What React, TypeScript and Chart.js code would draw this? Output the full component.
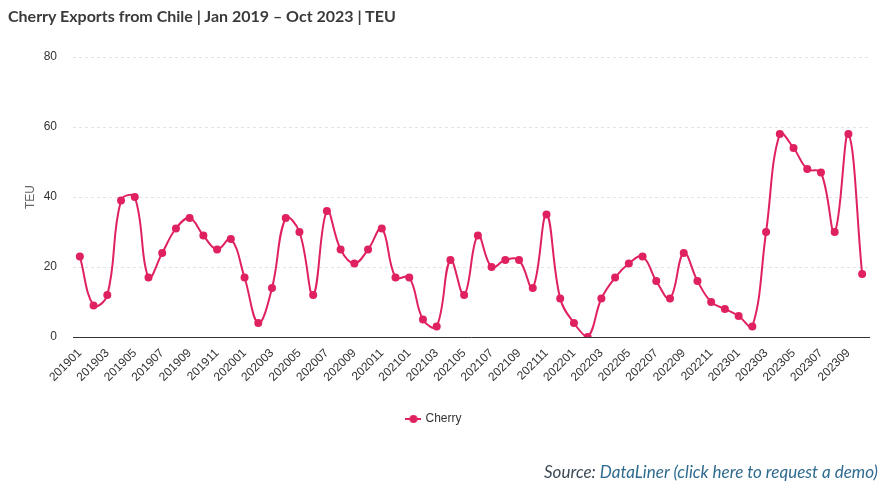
import React, { useEffect, useRef } from "react";
import { Chart, registerables } from "chart.js";

Chart.register(...registerables);

const months: string[] = [
  "201901","201902","201903","201904","201905","201906","201907","201908","201909","201910","201911","201912",
  "202001","202002","202003","202004","202005","202006","202007","202008","202009","202010","202011","202012",
  "202101","202102","202103","202104","202105","202106","202107","202108","202109","202110","202111","202112",
  "202201","202202","202203","202204","202205","202206","202207","202208","202209","202210","202211","202212",
  "202301","202302","202303","202304","202305","202306","202307","202308","202309","202310",
];

const cherryTEU: number[] = [
  23, 9, 12, 39, 40, 17, 24, 31, 34, 29, 25, 28,
  17, 4, 14, 34, 30, 12, 36, 25, 21, 25, 31, 17,
  17, 5, 3, 22, 12, 29, 20, 22, 22, 14, 35, 11,
  4, 0, 11, 17, 21, 23, 16, 11, 24, 16, 10, 8,
  6, 3, 30, 58, 54, 48, 47, 30, 58, 18,
];

const yTicks: number[] = [0, 20, 40, 60, 80];

const LINE_COLOR = "#e0215f";
const FONT = "'Liberation Sans', Arial, sans-serif";

function makeLegendIcon(): HTMLCanvasElement {
  const c = document.createElement("canvas");
  c.width = 16;
  c.height = 10;
  const ctx = c.getContext("2d")!;
  ctx.strokeStyle = LINE_COLOR;
  ctx.lineWidth = 2;
  ctx.beginPath();
  ctx.moveTo(0, 5);
  ctx.lineTo(16, 5);
  ctx.stroke();
  ctx.fillStyle = LINE_COLOR;
  ctx.beginPath();
  ctx.arc(8, 5, 4, 0, Math.PI * 2);
  ctx.fill();
  return c;
}

export default function App() {
  const ref = useRef<HTMLCanvasElement | null>(null);

  useEffect(() => {
    if (!ref.current) return;
    const icon = makeLegendIcon();
    const chart = new Chart(ref.current, {
      type: "line",
      data: {
        labels: months,
        datasets: [
          {
            label: "Cherry",
            data: cherryTEU,
            borderColor: LINE_COLOR,
            backgroundColor: LINE_COLOR,
            borderWidth: 2,
            pointRadius: 4,
            pointHoverRadius: 5,
            pointBackgroundColor: LINE_COLOR,
            pointBorderWidth: 0,
            tension: 0.4,
            fill: false,
          },
        ],
      },
      options: {
        animation: false,
        responsive: false,
        maintainAspectRatio: false,
        layout: { padding: { top: 57, right: 16, bottom: 58, left: 0 } },
        plugins: {
          tooltip: { enabled: false },
          title: { display: false },
          legend: {
            display: true,
            position: "bottom",
            labels: {
              color: "#333333",
              font: { family: FONT, size: 12 },
              usePointStyle: true,
              generateLabels: (ch: any) =>
                ch.data.datasets.map((ds: any, i: number) => ({
                  text: ds.label,
                  fillStyle: LINE_COLOR,
                  strokeStyle: LINE_COLOR,
                  lineWidth: 0,
                  pointStyle: icon,
                  hidden: false,
                  datasetIndex: i,
                  fontColor: "#333333",
                })),
            },
          },
        },
        scales: {
          x: {
            type: "category",
            offset: true,
            grid: { display: false, drawTicks: false },
            border: { display: true, color: "#333333", width: 1 },
            ticks: {
              autoSkip: false,
              maxRotation: 45,
              minRotation: 45,
              padding: 9,
              color: "#333333",
              font: { family: FONT, size: 12 },
              callback: function (_v: any, i: number) {
                return i % 2 === 0 ? months[i] : null;
              },
            },
            afterFit: (scale: any) => {
              scale.height = 66;
            },
          },
          y: {
            min: 0,
            max: 80,
            afterBuildTicks: (scale: any) => {
              scale.ticks = yTicks.map((v) => ({ value: v }));
            },
            grid: {
              drawTicks: false,
              color: (ctx: any) => (ctx.tick && ctx.tick.value === 0 ? "rgba(0,0,0,0)" : "#e3e3e3"),
              lineWidth: 1,
            },
            border: { display: false, dash: [3, 3] },
            ticks: {
              padding: 16,
              color: "#333333",
              font: { family: FONT, size: 12 },
            },
            title: {
              display: true,
              text: "TEU",
              color: "#666666",
              font: { family: FONT, size: 12 },
              padding: { top: 23, bottom: 0 },
            },
            afterFit: (scale: any) => {
              scale.width = 73;
            },
          },
        },
      },
    } as any);
    return () => chart.destroy();
  }, []);

  return (
    <div style={{ position: "absolute", left: 0, top: 0, width: 885, height: 493, background: "#ffffff" }}>
      <canvas ref={ref} width={885} height={493} style={{ position: "absolute", left: 0, top: 0, width: 885, height: 493 }} />
      <div
        style={{
          position: "absolute",
          left: 8,
          top: 6,
          fontFamily: "Lato, 'Open Sans', sans-serif",
          fontWeight: 700,
          fontSize: 16,
          color: "#3a3a3a",
          whiteSpace: "nowrap",
        }}
      >
        Cherry Exports from Chile | Jan 2019 – Oct 2023 | TEU
      </div>
      <div
        style={{
          position: "absolute",
          right: 7,
          top: 461,
          fontFamily: "Lato, 'Open Sans', sans-serif",
          fontStyle: "italic",
          fontSize: 17,
          color: "#3d4a57",
          whiteSpace: "nowrap",
        }}
      >
        Source: <span style={{ color: "#2f6a8f" }}>DataLiner (click here to request a demo)</span>
      </div>
    </div>
  );
}
